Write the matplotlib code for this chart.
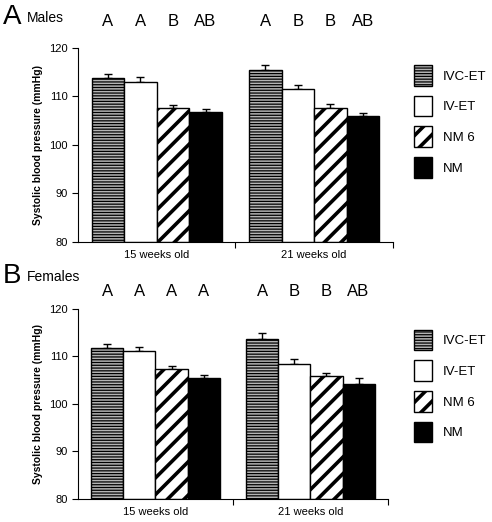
import numpy as np
import matplotlib.pyplot as plt
from matplotlib.patches import Patch

plt.rcParams['font.family'] = ['Liberation Sans', 'DejaVu Sans']

groups = ['15 weeks old', '21 weeks old']
series = ['IVC-ET', 'IV-ET', 'NM 6', 'NM']

male_vals = [[113.7, 113.0, 107.6, 106.7], [115.4, 111.5, 107.6, 105.9]]
male_err = [[0.9, 0.9, 0.6, 0.7], [1.1, 0.9, 0.8, 0.7]]
male_letters = [['A', 'A', 'B', 'AB'], ['A', 'B', 'B', 'AB']]

female_vals = [[111.7, 111.1, 107.4, 105.4], [113.7, 108.5, 105.8, 104.2]]
female_err = [[0.9, 0.9, 0.6, 0.6], [1.2, 0.9, 0.7, 1.2]]
female_letters = [['A', 'A', 'A', 'A'], ['A', 'B', 'B', 'AB']]

styles = [dict(facecolor='#b4b4b4', hatch='------', hlw=0.9),
          dict(facecolor='white', hatch=None, hlw=1.0),
          dict(facecolor='white', hatch='//', hlw=2.6),
          dict(facecolor='black', hatch=None, hlw=1.0)]

w = 0.207

fig = plt.figure(figsize=(4.92, 5.22), dpi=100)
ax1 = fig.add_axes([0.1585, 0.5364, 0.640, 0.372])
ax2 = fig.add_axes([0.1585, 0.0441, 0.630, 0.364])


def hatch_lw(p, lw):
    # hatch width is taken from rcParams when the patch is drawn
    if hasattr(p, 'set_hatch_linewidth'):
        p.set_hatch_linewidth(lw)
    orig = p.draw

    def draw_it(renderer, orig=orig, lw=lw):
        with plt.rc_context({'hatch.linewidth': lw}):
            orig(renderer)
    p.draw = draw_it


def draw(ax, vals, errs, letters, ltr_y, leg_y):
    for g in range(len(groups)):
        for i in range(len(series)):
            x = g + 0.5 + (i - 1.5) * w
            st = styles[i]
            b = ax.bar(x, vals[g][i] - 80, w, bottom=80, facecolor=st['facecolor'],
                       edgecolor='black', linewidth=1.0, hatch=st['hatch'], zorder=2)
            for p in b:
                hatch_lw(p, st['hlw'])
            ax.errorbar(x, vals[g][i], yerr=[[0], [errs[g][i]]], fmt='none',
                        ecolor='black', elinewidth=1.0, capsize=3, capthick=1.0, zorder=1)
            ax.text(x, ltr_y, letters[g][i], transform=ax.get_xaxis_transform(),
                    ha='center', va='center', fontsize=12)
    ax.set_xlim(0, 2)
    ax.set_ylim(80, 120)
    ax.set_yticks([80, 90, 100, 110, 120])
    ax.set_xticks([1, 2])
    ax.set_xticklabels([])
    ax.set_xticks([0.5, 1.5], minor=True)
    ax.set_xticklabels(groups, minor=True, fontsize=8)
    ax.tick_params(axis='x', which='minor', length=0, pad=6)
    ax.tick_params(axis='both', which='major', length=4, width=0.8, direction='out', labelsize=8)
    ax.spines['top'].set_visible(False)
    ax.spines['right'].set_visible(False)
    ax.set_ylabel('Systolic blood pressure (mmHg)', fontsize=7.5, fontweight='bold')

    handles = [Patch(facecolor=styles[i]['facecolor'], edgecolor='black',
                     hatch=styles[i]['hatch'], label=series[i]) for i in range(len(series))]
    leg = ax.legend(handles=handles, loc='upper left', bbox_to_anchor=(0.817, leg_y),
                    bbox_transform=fig.transFigure, frameon=False,
                    fontsize=9.5, handlelength=1.4, handleheight=2.0, labelspacing=0.78,
                    handletextpad=0.8)
    for i, p in enumerate(leg.get_patches()):
        hatch_lw(p, styles[i]['hlw'])


draw(ax1, male_vals, male_err, male_letters, 1.135, 0.898)
draw(ax2, female_vals, female_err, female_letters, 1.09, 0.391)

fig.text(0.006, 0.968, 'A', fontsize=20, va='center', ha='left')
fig.text(0.055, 0.966, 'Males', fontsize=10, va='center', ha='left')
fig.text(0.006, 0.472, 'B', fontsize=20, va='center', ha='left')
fig.text(0.055, 0.470, 'Females', fontsize=10, va='center', ha='left')

fig.savefig('out.png', dpi=100)
